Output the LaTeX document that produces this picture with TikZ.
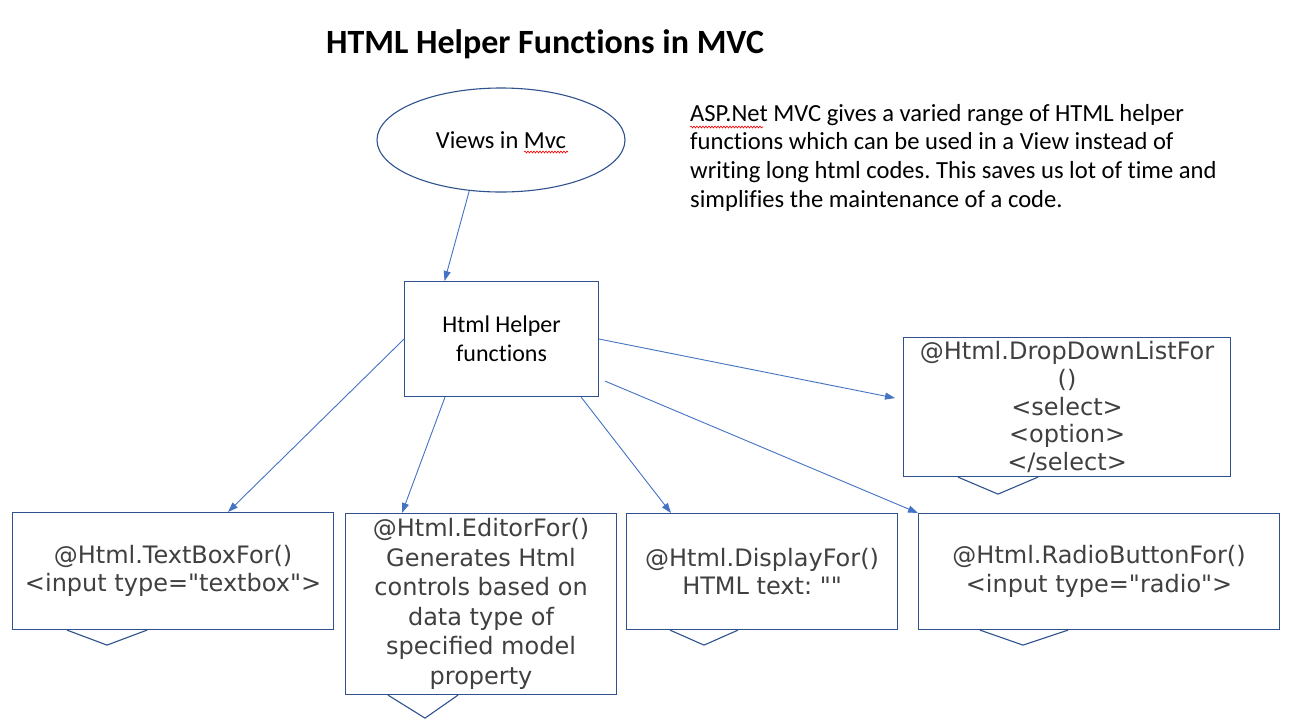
\documentclass[tikz,border=0pt]{standalone}
\usepackage{fontspec}
\setmainfont[Ligatures=NoCommon]{Carlito}
\newfontfamily\boxfont[Ligatures=TeXOff]{DejaVu Sans}
\usetikzlibrary{arrows.meta,shapes.geometric,decorations.pathmorphing}
\definecolor{arrowblue}{HTML}{4472C4}
\definecolor{edgeblue}{HTML}{2F528F}
\definecolor{txtgray}{HTML}{404040}
\frenchspacing
\begin{document}
\begin{tikzpicture}[x=1pt,y=-1pt,
  conn/.style={draw=arrowblue, line width=0.9pt, -{Triangle[length=10pt,width=7pt]}},
  edge/.style={draw=edgeblue, line width=1.1pt},
  callout/.style={draw=edgeblue, line width=1.1pt, anchor=north west, inner sep=0pt,
    align=center, text=txtgray, font=\boxfont\fontsize{24}{28.5}\selectfont},
  squiggle/.style={draw=red, line width=0.6pt, decorate,
    decoration={snake, amplitude=1pt, segment length=3pt}}
]
\useasboundingbox (0,0) rectangle (1295,721);
\fill[white] (0,0) rectangle (1295,721);

% title and description
\node[anchor=base, inner sep=0pt, font=\bfseries\fontsize{34}{40}\selectfont] (title) at (545,53) {HTML Helper Functions in MVC};
\node[anchor=north west, align=left, inner sep=0pt, font=\fontsize{24.6}{28.7}\selectfont] (desc) at (690,104)
  {ASP.Net MVC gives a varied range of HTML helper\\functions which can be used in a View instead of\\writing long html codes. This saves us lot of time and\\simplifies the maintenance of a code.};
\draw[squiggle] (690,127) -- (763,127);

% top nodes
\node[ellipse, draw=edgeblue, line width=1.1pt, minimum width=248pt, minimum height=104pt, inner sep=0pt,
  font=\fontsize{24.5}{28}\selectfont] (views) at (501,140) {Views in Mvc};
\draw[squiggle] (524,152) -- (568,152);

\node[draw=edgeblue, line width=1.1pt, minimum width=194pt, minimum height=115pt, anchor=north west,
  align=center, font=\fontsize{24}{29}\selectfont] (helper) at (404,281) {Html Helper\\functions};

% callouts
\node[callout, minimum width=321pt, minimum height=117pt] (tb) at (12,512)
  {@Html.TextBoxFor()\\<input type="textbox">};
\node[callout, minimum width=271pt, minimum height=181pt, font=\boxfont\fontsize{24}{29.5}\selectfont] (ed) at (345,513)
  {@Html.EditorFor()\\Generates Html\\controls based on\\data type of\\specified model\\property};
\node[callout, minimum width=271pt, minimum height=116pt] (dp) at (626,513)
  {@Html.DisplayFor()\\HTML text: ""};
\node[callout, minimum width=361pt, minimum height=116pt] (rb) at (918,513)
  {@Html.RadioButtonFor()\\<input type="radio">};
\node[callout, minimum width=327pt, minimum height=139pt, font=\boxfont\fontsize{24}{27.8}\selectfont] (dd) at (903,337)
  {@Html.DropDownListFor\\()\\<select>\\<option>\\</select>};

% callout pointers
\draw[edge] ([xshift=55pt]tb.south west) -- ([xshift=95pt,yshift=-15pt]tb.south west) -- ([xshift=135pt]tb.south west);
\draw[edge] ([xshift=43pt]ed.south west) -- ([xshift=80pt,yshift=-23pt]ed.south west) -- ([xshift=113pt]ed.south west);
\draw[edge] ([xshift=44pt]dp.south west) -- ([xshift=78pt,yshift=-15pt]dp.south west) -- ([xshift=112pt]dp.south west);
\draw[edge] ([xshift=62pt]rb.south west) -- ([xshift=105pt,yshift=-15pt]rb.south west) -- ([xshift=150pt]rb.south west);
\draw[edge] ([xshift=55pt]dd.south west) -- ([xshift=95pt,yshift=-17pt]dd.south west) -- ([xshift=135pt]dd.south west);

% connectors
\draw[conn] (views.238) -- ([xshift=-57pt]helper.north);
\draw[conn] (helper.west) -- ([xshift=216pt]tb.north west);
\draw[conn] ([xshift=41pt]helper.south west) -- ([xshift=57pt]ed.north west);
\draw[conn] ([xshift=-18pt]helper.south east) -- ([xshift=45pt]dp.north west);
\draw[conn] ([xshift=6pt,yshift=16pt]helper.south east) -- (rb.north west);
\draw[conn] (helper.east) -- ([xshift=-8pt,yshift=9pt]dd.west);
\end{tikzpicture}
\end{document}
